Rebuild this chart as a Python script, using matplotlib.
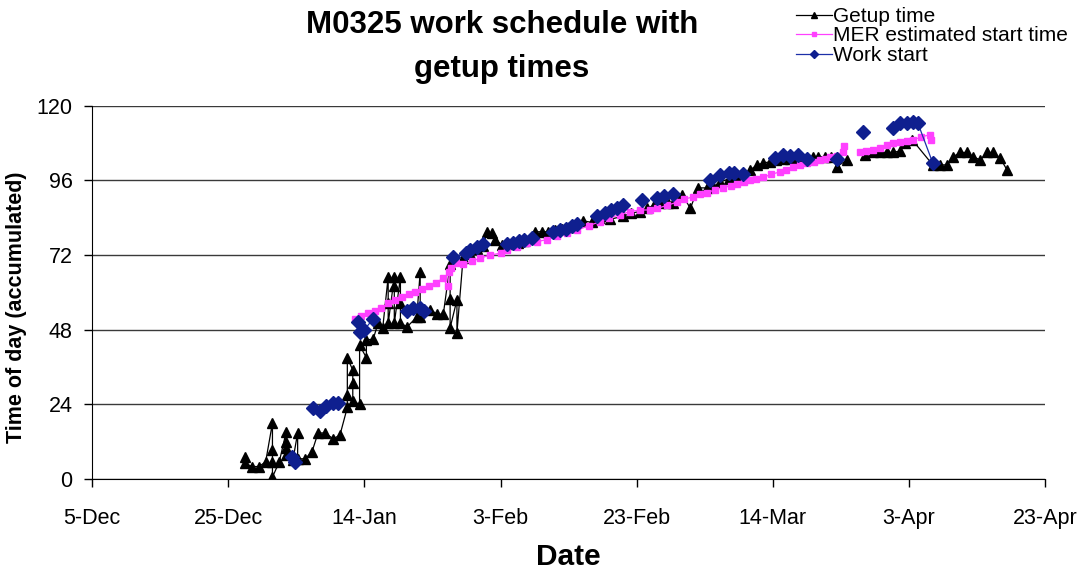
import numpy as np
import matplotlib
matplotlib.use('Agg')
import matplotlib.pyplot as plt
import matplotlib.dates as mdates

plt.rcParams['font.family'] = ['Liberation Sans', 'DejaVu Sans']

# days after 5-Dec-2003, value = time of day (accumulated hours); None breaks the line
start_date = '2003-12-05'

getup_days = [22.5, 22.5, 23.5, 24.5, 25.5, 26.5, 26.5, 26.5, 26.5, 27.5, 28.5, 28.5, 28.5, 28.5, 29.5,
              30.2, 30.2, 31.3, 32.3, 33.2, 34.2, 35.4, 36.4, 37.5, 37.5, 37.5, 38.3, 38.3, 38.3, 39.3, 39.3,
              40.3, 40.3, 41.3, 42, 42.7, 43.5, 43.5, 43.5, 44.4, 44.4, 44.4, 45.3, 45.3, 45.3, 46.3, 47.7,
              48.2, 48.2, 49.7, 50.7, 51.6, 52.6, 52.6, 52.6, 53.6, 53.6, 54.5, 55.5, 56.5, 57.5, 58, 58.8,
              59.2, 60.2, 61.5, 62.5, 63.5, 64.5, 65.1, 66.1, 67, 68, 69, 70, 71, 72.1, 73.5, 74.5, 75.5,
              76.1, 78, 79.2, 80.5, 81.5, 82.5, 83.4, 84.6, 85.4, 86.7, 87.9, 89, 90.3, 91.2, 92.3, 93.5,
              94.5, 95.5, 96.7, 97.7, 98.6, 99.6, 100.5, 101.5, 102.5, 103.5, 104.5, 105.9, 106.7, 107.7,
              108.6, 109.4, 110.9, None, 113.6, 114.7, 115.8, 116.8, 117.7, 118.7, 119.4, 120.5, 123.5,
              124.6, 125.6, 126.5, 127.5, 128.5, 129.4, 130.5, 131.5, 132.4, 133.4, 134.4]
getup_hours = [7, 5, 4, 4, 5.5, 18, 9.3, 5.5, 0.6, 5.5, 15, 12, 10, 7.7, 6,
               14.8, 6.5, 6.5, 8.7, 14.8, 14.8, 13, 14, 23, 27, 39, 35, 31, 25, 24, 43,
               39, 44.7, 45, 50, 48.6, 65, 56.6, 50, 65, 62, 50, 65, 56.6, 50, 49, 52,
               66.6, 52, 54.4, 53, 53, 69, 58, 48.6, 57.6, 47, 71, 72.5, 74, 75, 79.5, 79,
               77, 75.3, 75.5, 76, 76.5, 77.5, 79.5, 79.5, 79.5, 80, 80.5, 81, 81.5, 83, 82.5, 84, 84.5,
               83.5, 84.5, 85.5, 86, 87, 88, 88.7, 88.7, 88.7, 91.4, 87, 93.6, 93.6, 94, 95.5, 96.5,
               97, 97.5, 99.4, 101, 101.6, 102, 102.5, 103, 103, 103, 103, 103.6, 103.6, 103.6,
               103.6, 100.4, 102.6, None, 104.2, 105, 105, 105, 105, 105.5, 108, 109, 101,
               101, 101, 103.6, 105, 105, 103.6, 102.6, 105, 105, 103.2, 99.4]

mer_days = [38.6, 39.5, 40.5, 41.5, 42.5, 43.5, 44.5, 45.5, 46.5, 47.5, 48.5, 49.5, 50.5, 51.5, 52.3,
            52.5, 52.7, 53.5, 54.5, 55.8, 57, 58.5, 60, 61, 62.4, 63.9, 65.4, 66.8, 68.3, 69.8, 71.3,
            73, 74.6, 76, 77.6, 79, 80.5, 82, 83, 84.5, 85.9, 87, 88.3, 89.3, 90.3, 91.5, 92.7, 93.8,
            94.8, 95.8, 96.7, 97.6, 98.6, 99.8, 101, 102, 103, 104, 105, 106, 107, 107.7, 108.4, 109.4,
            110.3, 110.5, None, 112.8, 113.7, 114.7, 115.7, 116.8, 117.7, 118.7, 119.7, 120.6, 121.8,
            123.1, 123.2]
mer_hours = [51.5, 52.5, 53.5, 54, 55, 56.5, 57.5, 58.5, 59.5, 60, 61, 62, 63, 64.5, 62,
             66.5, 68, 69.5, 69, 70, 71, 72, 72.6, 73.7, 74.6, 76, 76.3, 77, 78, 79, 80,
             81.5, 82.7, 84, 85, 86, 86.5, 86.5, 87, 88, 89, 90, 90.7, 91.5, 92, 93, 93.6, 94.3,
             95, 95.5, 96, 96.5, 97, 98, 98.7, 99.5, 100.4, 101, 101.6, 102, 102.6, 103, 103.6, 104,
             105, 107, None, 105, 105.5, 105.8, 106.5, 107.4, 108, 108.4, 108.8, 109, 110,
             110.7, 109]

work_days = [29.3, 29.8, None, 32.5, 33.5, 34.4, 35.4, 36.1, None, 39, 39.4, 40, 41.3, None,
             46.3, 47.2, 48.2, 48.7, None, 53, 55, 55.5, 56.5, 57.4, None, 61, 61.8, 62.7, 63.5, 64.7,
             None, 67.7, 68.7, 69.6, 70.5, 71.3, None, 74.2, 75.3, 76.2, 77.1, 78, None, 80.8, None,
             83, 84, 85.3, None, 90.8, 92.3, 93.5, 94.3, 95.6, None, 100.3, 101.5, 102.5, 103.7, 105,
             None, 109.5, None, 113.3, None, 117.7, 118.7, 119.7, 120.6, 121.3, 123.5]
work_hours = [7, 5.5, None, 22.8, 22, 23.5, 24.4, 24.4, None, 50.5, 47.3, 48, 51.5, None,
              54, 55, 55, 54, None, 71.4, 72.6, 73.7, 74.6, 75.5, None, 75.5, 76, 76.5, 77, 77.5,
              None, 79.5, 80, 80.5, 81.5, 82, None, 84.5, 85.5, 86.5, 87, 88, None, 89.7, None,
              90.5, 91, 91.5, None, 96.2, 97.8, 98.5, 98.5, 98.2, None, 103.2, 104.2, 103.8, 104.2, 103,
              None, 103, None, 111.6, None, 113, 114.5, 114.5, 114.8, 114.5, 101.6]

yticks = [0, 24, 48, 72, 96, 120]


def to_num(days):
    d = np.array(days, dtype=float)
    return mdates.datestr2num(start_date) + d


fig = plt.figure(figsize=(10.83, 5.75), dpi=100)
ax = fig.add_axes([0.085, 0.167, 0.88, 0.649])

ax.plot(to_num(getup_days), np.array(getup_hours, dtype=float), color='black', lw=0.9,
        marker='^', ms=6.5, mfc='black', mec='black', label='Getup time', zorder=3)
ax.plot(to_num(mer_days), np.array(mer_hours, dtype=float), color='#ff40ff', lw=0.9,
        marker='s', ms=4.5, mfc='#ff40ff', mec='#ff40ff', label='MER estimated start time', zorder=4)
ax.plot(to_num(work_days), np.array(work_hours, dtype=float), color='#1c2fa8', lw=0.9,
        marker='D', ms=7, mfc='#0f1f8f', mec='#0f1f8f', label='Work start', zorder=5)

x0 = mdates.datestr2num(start_date)
ax.set_xlim(x0, x0 + 140)
ax.set_xticks(x0 + np.arange(0, 141, 20))
ax.xaxis.set_major_formatter(mdates.DateFormatter('%-d-%b'))
ax.set_ylim(0, 120)
ax.set_yticks(yticks)
ax.yaxis.grid(True, color='#3a3a3a', lw=1)
ax.set_axisbelow(True)

for s in ['top', 'right']:
    ax.spines[s].set_visible(False)
ax.tick_params(axis='both', direction='out', length=6, width=1, labelsize=15.5)
ax.tick_params(axis='x', pad=15)
ax.tick_params(axis='y', pad=8)

ax.set_xlabel('Date', fontsize=21.5, fontweight='bold', labelpad=10)
ax.set_ylabel('Time of day (accumulated)', fontsize=15.5, fontweight='bold')
ax.yaxis.set_label_coords(-0.068, 0.46)

fig.text(0.4635, 0.983, 'M0325 work schedule with\ngetup times', ha='center', va='top',
         fontsize=22.5, fontweight='bold', linespacing=1.6)

fig.legend(loc='upper left', bbox_to_anchor=(0.731, 0.995), frameon=False, fontsize=15,
           handlelength=1.75, handletextpad=0.05, labelspacing=0.02, borderaxespad=0,
           borderpad=0.2, markerscale=0.6)

fig.savefig('out.png', dpi=100)
